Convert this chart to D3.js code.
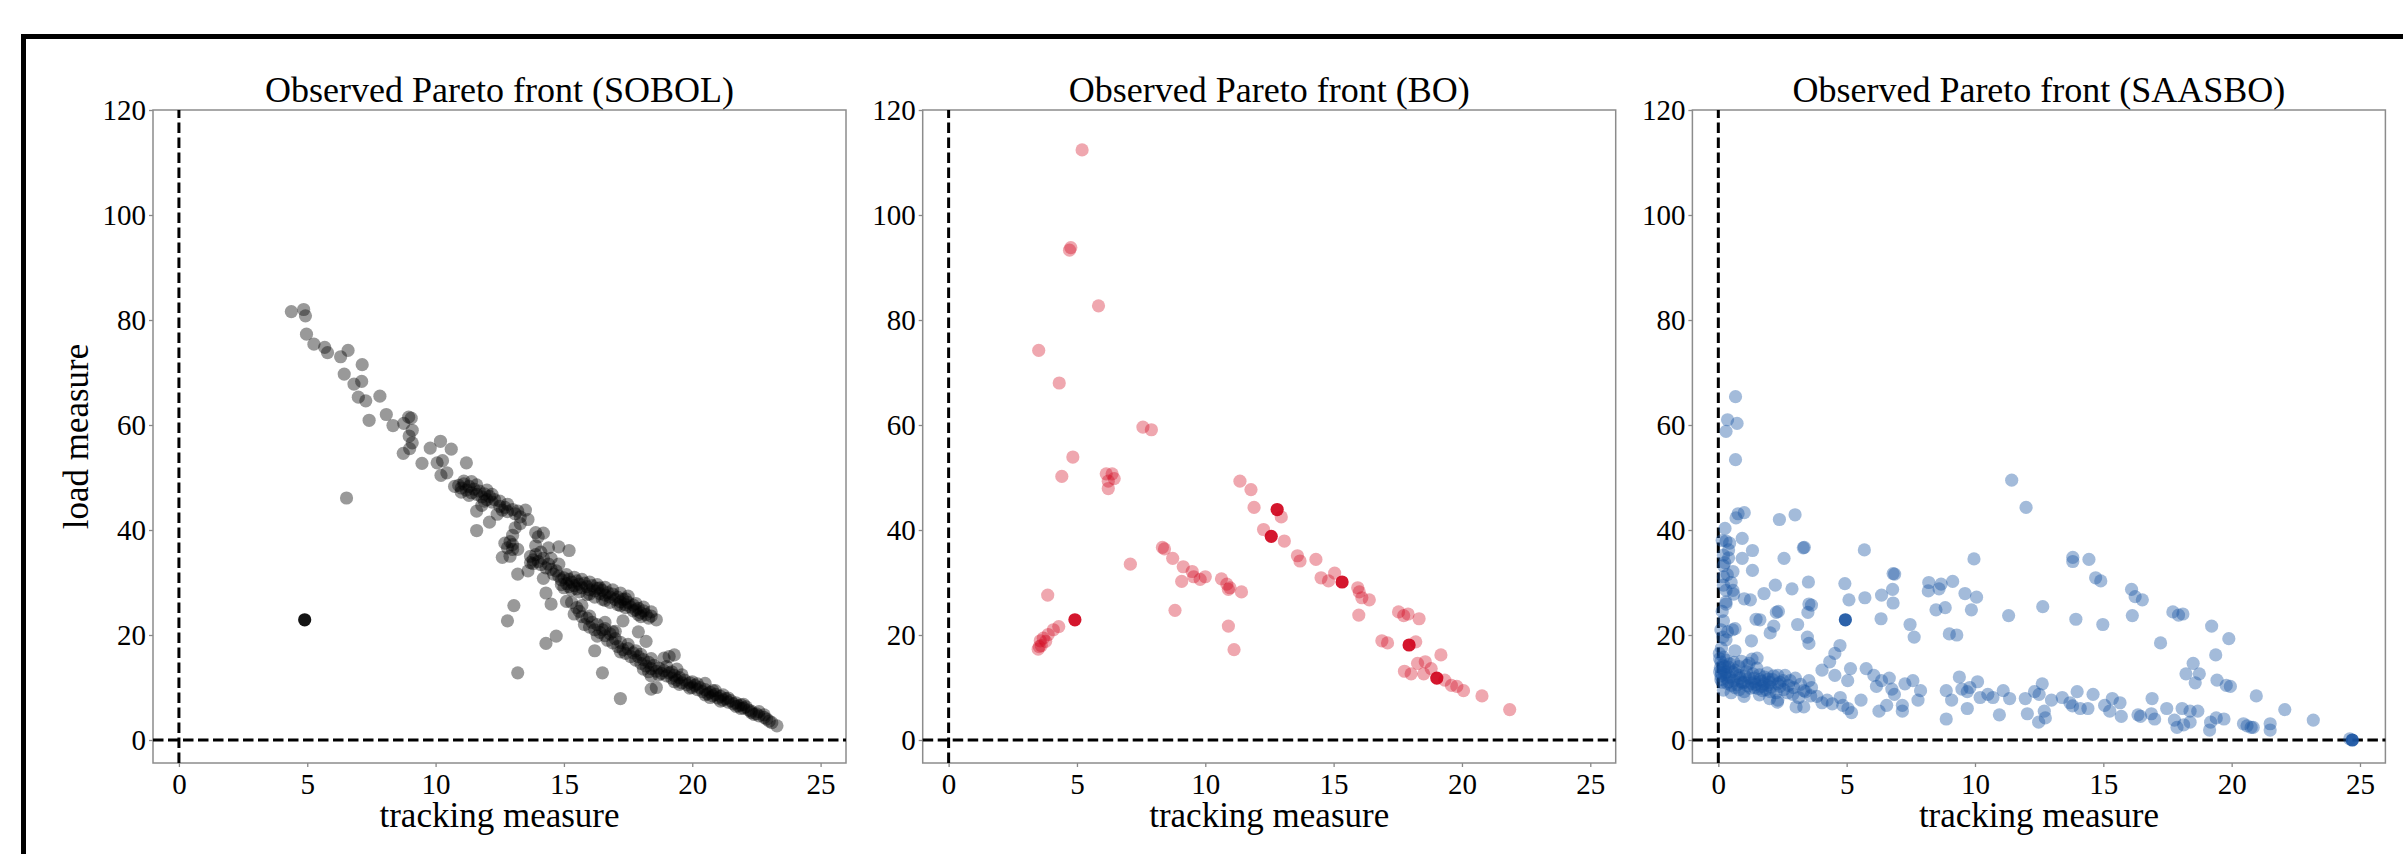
<!DOCTYPE html>
<html lang="en">
<head>
<meta charset="utf-8">
<title>Observed Pareto fronts</title>
<script src="https://d3js.org/d3.v7.min.js"></script>
<style>
  body { margin: 0; background: #fff; }
  text { font-family: "Liberation Serif", "Times New Roman", serif; fill: #000; }
</style>
</head>
<body>
<script>
// Size of the whole picture
var width = 2403;
var height = 854;

// Ticks and labels
var xTicks = [0, 5, 10, 15, 20, 25];
var yTicks = [0, 20, 40, 60, 80, 100, 120];
var titles = ["Observed Pareto front (SOBOL)", "Observed Pareto front (BO)", "Observed Pareto front (SAASBO)"];
var xLabel = "tracking measure";
var yLabel = "load measure";

// SOBOL observations [tracking, load]
var sobolPoints = [
  [4.38,81.6],[4.86,82.0],[4.93,80.8],[4.97,77.3],[5.26,75.4],[5.68,74.8],[5.79,73.8],[6.3,73.0],[6.59,74.2],
  [6.44,69.7],[7.14,71.5],[6.82,67.8],[7.12,68.3],[6.99,65.3],[7.28,64.6],[7.83,65.5],[7.41,60.9],[8.08,62.0],
  [8.34,59.9],[8.76,60.3],[8.95,61.5],[9.09,59.0],[9.05,61.3],[8.74,54.6],[8.99,55.5],[9.09,56.6],[8.97,57.9],
  [9.47,52.7],[9.79,55.6],[10.19,56.9],[10.06,52.8],[10.27,53.2],[10.61,55.4],[10.21,50.4],[10.44,50.9],
  [10.74,48.3],[11.2,52.8],[11.1,49.3],[6.53,46.1],
  [10.9,48.5],[11.0,48.0],[11.1,48.8],[11.2,47.6],[11.3,48.3],[11.4,47.1],[11.5,47.8],[11.6,46.8],[11.7,47.4],
  [11.8,46.3],[11.9,46.9],[12.0,45.8],[12.1,46.4],[12.2,45.3],[12.3,45.8],[12.5,44.5],[12.6,43.8],[12.7,44.3],
  [12.8,43.5],[13.0,43.9],[13.1,43.1],[13.2,43.6],[13.5,43.8],[12.7,37.5],[12.8,36.6],[12.9,37.8],[13.0,36.3],
  [13.1,40.4],[13.3,41.2],[13.0,39.0],[13.7,35.0],[13.8,34.3],[13.9,35.3],[14.0,34.0],[14.1,33.4],[14.2,34.6],
  [13.8,33.6],[14.3,32.8],[14.5,32.5],[14.6,31.6],[14.7,32.2],[14.4,33.5],[13.9,39.5],[14.2,39.4],[14.0,38.7],
  [14.4,36.6],[14.8,36.8],[15.2,36.1],[13.2,36.3],[12.6,34.8],[13.2,31.6],[13.6,32.2],[14.2,30.8],[14.3,28.0],
  [14.5,25.9],[15.1,26.4],[13.05,25.6],[12.8,22.7],[13.2,12.8],[14.3,18.4],[14.7,19.8],[11.6,43.6],[11.6,39.9],
  [12.1,41.5],[12.4,43.0],[11.8,44.7],
  [11.0,47.2],[11.3,46.6],[11.6,48.6],[11.9,45.5],[12.2,46.8],[12.5,45.5],[12.8,44.9],[11.4,49.2],[12.0,47.6],
  [13.3,42.5],[13.6,42.0],[13.9,37.0],[14.1,35.8],[13.7,33.8],[14.5,34.6],[14.8,33.5],[13.0,37.2],[12.9,35.0],
  [14.8,31.2],[14.9,30.5],[15.0,30.9],[15.1,29.8],[15.2,30.6],[15.3,30.1],[15.4,29.4],[15.5,30.3],[15.6,29.7],
  [15.7,29.0],[15.8,29.9],[15.9,29.2],[16.0,28.6],[16.1,29.4],[16.2,28.4],[16.3,28.9],[16.4,27.9],[16.5,28.5],
  [16.6,27.6],[16.7,28.1],[16.8,27.2],[16.9,27.8],[17.0,26.8],[17.1,27.2],[17.2,26.3],[17.3,26.8],[17.4,25.8],
  [17.5,26.2],[17.6,25.3],[17.7,25.7],[17.8,24.8],[17.9,25.1],[18.0,24.2],[18.1,24.6],[18.2,23.9],[18.4,23.6],
  [18.6,22.9],[15.5,28.8],[16.0,27.8],[16.6,26.6],[17.2,25.6],[15.2,29.2],[14.9,29.6],[16.4,29.0],[17.4,26.9],
  [17.9,23.9],
  [15.0,29.0],[15.3,28.6],[15.6,28.2],[15.9,27.7],[16.2,27.2],[16.5,26.8],[16.8,26.2],[17.1,25.8],[17.4,25.2],
  [17.7,24.6],[18.0,23.5],[18.3,23.2],[15.1,31.5],[15.4,31.0],[15.7,30.6],[16.0,30.1],[16.3,29.6],[16.6,29.1],
  [16.9,28.6],[17.2,28.0],[17.5,27.4],[17.8,26.0],[18.1,25.3],[18.4,24.4],
  [15.3,26.2],[15.5,25.2],[15.6,24.5],[15.7,23.5],[15.8,22.0],[15.9,23.2],[16.0,21.5],[16.1,22.4],[16.2,21.0],
  [16.3,22.0],[16.4,20.5],[16.5,21.0],[16.6,19.9],[16.7,19.0],[16.8,20.2],[16.9,18.5],[17.0,19.3],[17.1,17.8],
  [17.2,18.6],[17.3,17.2],[17.4,16.5],[17.5,17.4],[17.6,15.9],[17.7,16.6],[17.8,15.2],[17.9,15.9],[18.0,14.6],
  [18.1,15.3],[18.2,14.1],[18.3,14.8],[18.4,13.6],[18.5,14.2],[18.6,13.1],[18.7,13.7],[18.8,12.7],[18.9,13.2],
  [19.0,12.2],[19.1,12.8],[19.2,11.8],[19.3,12.3],[19.4,11.4],[19.5,11.9],[19.6,10.9],[19.7,11.4],[19.8,10.5],
  [19.9,10.9],[20.0,10.0],[20.1,10.4],[20.2,9.6],[20.3,10.0],[20.4,9.2],[20.5,9.6],[20.6,8.8],[20.7,9.1],
  [20.8,8.4],[20.9,8.7],[21.0,8.0],[21.1,8.3],[21.2,7.6],[21.3,7.9],[21.4,7.2],[21.5,7.5],[21.6,6.9],[21.7,7.1],
  [21.8,6.5],[21.9,6.7],[22.0,6.1],[22.1,6.3],[22.2,5.7],[22.3,5.5],[22.5,5.0],[22.6,4.6],[22.8,4.3],[22.9,4.0],
  [23.0,3.6],[23.3,2.7],[19.2,13.0],[19.4,13.5],[19.3,16.2],[18.4,12.2],[18.6,10.0],[18.4,9.7],[17.2,7.9],
  [16.5,12.8],[16.2,17.0],[17.9,20.6],[17.3,22.7],[16.6,22.4],[17.0,20.7],[18.2,18.8],[18.9,15.6],[19.1,15.9],
  [20.5,10.8],[20.9,9.4],
  [15.4,24.0],[15.7,25.6],[16.0,23.6],[16.3,19.8],[16.6,21.2],[16.9,20.6],[17.2,16.8],[17.5,18.2],[17.8,17.0],
  [18.1,13.5],[18.4,15.5],[18.7,12.4],[19.0,14.0],[19.3,11.1],[19.6,12.4],[19.9,9.9],[20.2,10.7],[20.5,8.6],
  [20.8,9.4],[21.1,7.4],[21.4,8.0],[21.7,6.4],[22.0,6.8],[22.3,5.2],[22.6,5.4],[22.8,4.8],[23.1,3.3],[18.0,16.3],
  [18.3,13.0],[19.5,10.6],[20.0,11.1],[20.7,8.1],[21.2,8.6],[21.9,6.0],[22.4,4.9]
];
var sobolBest = [[4.9,22.9]];

// BO observations
var boPoints = [
  [5.2,112.4],[4.76,93.8],[4.71,93.3],[5.84,82.7],[3.51,74.2],[4.31,68.0],[7.57,59.6],[7.9,59.1],[4.84,53.9],
  [4.41,50.2],[6.14,50.7],[6.37,50.7],[6.22,49.3],[6.45,49.8],[6.22,47.9],[7.08,33.5],[8.33,36.7],[8.41,36.4],
  [8.73,34.6],[9.14,33.0],[9.49,32.1],[9.55,31.1],[10.0,31.1],[9.8,30.6],[9.08,30.2],[10.63,30.7],[10.84,29.7],
  [10.96,29.0],[10.9,28.7],[11.41,28.2],[8.82,24.7],[10.9,21.7],[11.12,17.2],[3.86,27.6],[4.29,21.6],[4.08,21.0],
  [3.88,20.1],[3.69,19.4],[3.57,18.9],[3.78,18.8],[3.53,17.8],[3.49,17.3],[3.61,18.0],[11.35,49.3],[11.78,47.7],
  [11.9,44.3],[12.27,40.1],[12.96,42.5],[13.08,37.9],[13.59,35.1],[13.69,34.1],[14.31,34.4],[14.51,30.9],
  [14.8,30.3],[15.04,31.8],[15.94,29.0],[16.0,28.2],[16.1,27.1],[16.39,26.7],[15.98,23.8],[17.53,24.4],
  [17.73,23.7],[17.9,24.0],[18.33,23.1],[16.88,18.9],[17.1,18.5],[18.2,18.7],[19.18,16.2],[18.27,14.6],
  [18.57,14.9],[17.76,13.1],[18.02,12.6],[18.51,12.6],[18.8,13.6],[19.33,11.4],[19.59,10.4],[19.8,10.2],
  [20.06,9.4],[20.78,8.4],[21.86,5.8]
];
var boBest = [[4.92,22.9],[12.57,38.8],[12.8,43.9],[15.33,30.1],[17.94,18.1],[19.02,11.8]];

// SAASBO observations
var saasboPoints = [
  [0.67,65.4],[0.36,61.0],[0.73,60.3],[0.3,58.8],[0.67,53.4],[0.77,43.1],[1.01,43.3],[0.69,42.3],[0.26,40.3],
  [0.93,38.4],[0.3,37.9],[0.44,37.5],[0.2,35.2],[0.4,34.7],[0.93,34.6],[1.33,36.1],[0.2,33.2],[0.57,32.1],
  [1.33,32.3],[0.2,31.1],[0.5,30.0],[0.3,28.5],[0.57,28.5],[1.01,26.9],[1.25,26.7],[0.3,25.9],[1.78,27.9],
  [2.22,29.5],[2.38,42.0],[2.99,42.9],[2.56,34.6],[3.35,36.7],[3.31,36.6],[3.51,30.1],[2.87,28.8],[3.53,25.9],
  [3.63,25.7],[3.49,24.3],[2.26,24.3],[2.34,24.5],[1.47,23.0],[1.62,22.9],[0.2,22.7],[0.65,21.2],[0.3,19.1],
  [0.36,20.6],[2.02,20.4],[2.16,21.7],[3.09,22.0],[3.47,19.6],[3.53,18.4],[1.29,18.9],[5.69,36.2],[4.93,29.8],
  [5.09,26.7],[5.71,27.1],[6.36,27.6],[6.81,31.7],[6.87,31.6],[6.79,28.7],[6.81,26.1],[6.34,23.1],[7.47,22.0],
  [7.63,19.6],[8.2,30.0],[8.18,28.4],[8.6,28.8],[8.68,29.7],[9.13,30.2],[8.48,24.8],[8.84,25.2],[9.0,20.2],
  [9.29,20.0],[9.61,27.9],[10.06,27.2],[9.86,24.8],[9.96,34.5],[11.43,49.5],[11.99,44.3],[11.31,23.7],
  [12.64,25.4],[13.81,34.8],[13.81,34.0],[14.44,34.4],[14.7,30.9],[14.9,30.3],[13.93,23.0],[14.98,22.0],
  [16.1,28.7],[16.24,27.3],[16.52,26.7],[16.13,23.7],[17.71,24.4],[17.93,23.8],[18.1,24.0],[17.23,18.5],
  [19.22,21.7],[19.89,19.3],[19.38,16.2],[18.5,14.6],[18.22,12.6],[18.74,12.6],[18.58,10.9],[19.43,11.4],
  [19.79,10.4],[19.95,10.2],[20.96,8.4],[22.07,5.8],[23.18,3.8],
  [0.04,16.5],[0.1,14.9],[0.16,14.2],[0.2,13.3],[0.24,12.5],[0.32,11.8],[0.4,11.1],[0.5,10.4],[0.65,10.0],
  [0.81,9.6],[1.01,9.2],[0.12,12.8],[0.4,13.9],[0.65,13.3],[0.81,12.3],[0.91,11.1],[1.11,14.2],[1.31,15.4],
  [1.51,15.6],[1.21,11.8],[1.41,11.1],[1.62,11.5],[1.78,10.7],[1.92,10.4],[2.12,11.5],[2.32,10.7],[1.41,10.0],
  [1.72,9.4],[2.02,9.2],[2.32,12.3],[2.52,11.3],[2.73,10.4],[2.93,10.0],[2.32,7.6],[3.03,6.3],[3.33,6.3],
  [3.13,8.1],[3.33,9.4],[3.63,10.0],[3.53,11.3],[3.84,8.3],[4.04,7.1],[4.24,7.6],[4.44,6.9],[4.04,13.3],
  [4.34,14.9],[4.54,16.5],[4.74,18.0],[4.54,12.3],[5.04,11.3],[5.15,13.6],[4.75,8.1],[4.85,6.6],[5.05,6.0],
  [5.19,5.2],[5.56,7.6],[5.76,13.6],[6.06,12.3],[6.16,10.2],[6.36,11.3],[6.26,5.5],[6.56,6.6],[6.66,11.8],
  [6.76,9.7],[6.86,8.7],[7.17,6.6],[7.17,5.5],[7.27,10.7],[7.58,11.3],[7.78,7.6],[7.88,9.4],[8.88,4.0],
  [8.88,9.4],[9.09,7.6],[9.39,12.0],[9.49,9.7],[9.7,9.2],[9.7,6.0],[9.8,10.0],[10.1,11.1],[10.2,8.1],[10.5,8.7],
  [10.7,8.1],[10.95,4.8],[11.1,9.4],[11.35,7.9],[11.96,7.9],[12.04,5.0],[12.32,9.2],[12.48,3.4],[12.62,10.7],
  [12.7,5.5],[12.74,4.2],[12.5,8.7],[12.98,7.6],[13.4,8.1],[13.7,7.1],[13.8,6.5],[13.98,9.2],[14.1,6.0],
  [14.4,6.0],[14.6,8.7],[15.05,6.6],[15.25,5.5],[15.35,7.9],[15.65,7.1],[15.7,4.5],[16.35,4.8],[16.45,4.5],
  [16.87,5.0],[16.9,7.9],[17.0,4.0],[17.47,6.0],[17.77,3.8],[17.87,2.4],[18.07,6.0],[18.13,2.9],[18.38,5.5],
  [18.68,5.5],[18.38,3.4],[19.14,1.9],[19.18,3.4],[19.4,4.2],[19.7,4.0],[20.46,3.1],[20.6,2.7],[20.76,2.4],
  [20.84,2.4],[21.5,3.1],[21.5,1.9],[24.6,0.2],
  [0.05,15.5],[0.08,13.8],[0.1,12.2],[0.15,11.0],[0.2,15.8],[0.25,14.0],[0.3,12.9],[0.35,10.8],[0.45,12.0],
  [0.55,13.0],[0.6,11.3],[0.7,12.6],[0.75,10.5],[0.85,11.8],[0.95,10.8],[1.05,12.2],[1.15,10.3],[1.25,9.9],
  [1.35,12.6],[1.45,10.6],[1.55,9.8],[1.6,12.4],[1.7,11.2],[1.8,12.0],[1.85,9.6],[1.95,11.6],[2.05,10.1],
  [2.15,12.2],[2.25,9.0],[2.4,11.0],[2.55,9.6],[2.6,12.3],[2.8,11.3],[2.9,8.7],[3.2,10.6],[3.4,9.2],[3.6,8.4],
  [0.12,17.5],[0.18,19.6],[0.1,21.0],[0.15,24.5],[0.3,26.3],[0.2,29.5],[0.35,31.5],[0.25,33.8],[0.4,36.2],
  [0.15,38.0],[0.6,27.8],[0.55,21.0],[0.65,17.0],[0.9,15.0],[1.2,14.6],[1.5,13.7],[0.2,9.5],[0.5,9.0],[1.0,8.3],
  [1.6,8.6],[2.0,7.9],[2.3,7.2],
  [0.05,13.0],[0.1,11.5],[0.3,15.2],[0.45,14.5],[0.6,14.8],[1.0,11.0],[1.3,10.8],[1.7,10.2],[2.0,11.0],
  [1.9,12.8],[2.4,10.2],[0.8,14.0],[1.1,13.0],[1.4,11.8],[2.7,9.0],[3.0,11.8]
];
var saasboBest = [[4.95,22.9],[24.7,0.0]];

var panels = [
  { points: sobolPoints, best: sobolBest, color: "#000000", alpha: 0.4 },
  { points: boPoints, best: boBest, color: "#d0021b", alpha: 0.35 },
  { points: saasboPoints, best: saasboBest, color: "#1a55a3", alpha: 0.4 }
];

// layout of one axes box
var boxW = 693, boxH = 653, boxTop = 110, firstLeft = 153, step = 769.7;

var svg = d3.select("body")
  .append("svg")
  .attr("width", width)
  .attr("height", height);

svg.append("rect")
  .attr("width", width).attr("height", height)
  .attr("fill", "#fff");

// heavy outer frame (runs off the right and bottom edges)
svg.append("rect")
  .attr("x", 23.5).attr("y", 36.5)
  .attr("width", width + 20).attr("height", height)
  .attr("fill", "none")
  .attr("stroke", "#000")
  .attr("stroke-width", 5);

var x = d3.scaleLinear().domain([-1.01, 25.99]).range([0, boxW]);
var y = d3.scaleLinear().domain([-4.38, 120]).range([boxH, 0]);

panels.forEach(function(p, i) {
  var g = svg.append("g")
    .attr("transform", "translate(" + (firstLeft + i * step) + "," + boxTop + ")");

  // axes
  var xa = g.append("g")
    .attr("transform", "translate(0," + boxH + ")")
    .call(d3.axisBottom(x).tickValues(xTicks).tickSize(4).tickSizeOuter(0).tickPadding(6));
  var ya = g.append("g")
    .call(d3.axisLeft(y).tickValues(yTicks).tickSize(4).tickSizeOuter(0).tickPadding(3));
  [xa, ya].forEach(function(a) {
    a.attr("font-family", null).attr("font-size", null);
    a.select(".domain").remove();
    a.selectAll(".tick line").attr("stroke", "#888").attr("stroke-width", 1.3);
    a.selectAll(".tick text")
      .style("font-family", "'Liberation Serif', 'Times New Roman', serif")
      .style("font-size", "29px")
      .attr("fill", "#000");
  });

  // spines
  g.append("rect")
    .attr("width", boxW).attr("height", boxH)
    .attr("fill", "none")
    .attr("stroke", "#8c8c8c")
    .attr("stroke-width", 1.5);

  // zero reference lines
  g.append("line")
    .attr("x1", 0).attr("x2", boxW)
    .attr("y1", y(0)).attr("y2", y(0))
    .attr("stroke", "#000").attr("stroke-width", 3)
    .attr("stroke-dasharray", "10.5,4.5");
  g.append("line")
    .attr("x1", x(0)).attr("x2", x(0))
    .attr("y1", boxH).attr("y2", 0)
    .attr("stroke", "#000").attr("stroke-width", 3)
    .attr("stroke-dasharray", "10.5,4.5");

  // observations
  g.append("g").selectAll("circle")
    .data(p.points)
    .enter().append("circle")
    .attr("cx", function(d) { return x(d[0]); })
    .attr("cy", function(d) { return y(d[1]); })
    .attr("r", 6.6)
    .attr("fill", p.color)
    .attr("fill-opacity", p.alpha);

  g.append("g").selectAll("circle")
    .data(p.best)
    .enter().append("circle")
    .attr("cx", function(d) { return x(d[0]); })
    .attr("cy", function(d) { return y(d[1]); })
    .attr("r", 6.6)
    .attr("fill", p.color)
    .attr("fill-opacity", 0.92);

  // title and axis labels
  g.append("text")
    .attr("x", boxW / 2).attr("y", -8)
    .attr("text-anchor", "middle")
    .style("font-size", "36px")
    .text(titles[i]);

  g.append("text")
    .attr("x", boxW / 2).attr("y", boxH + 64)
    .attr("text-anchor", "middle")
    .style("font-size", "35px")
    .text(xLabel);

  if (i === 0) {
    g.append("text")
      .attr("transform", "translate(" + (88 - firstLeft) + "," + (boxH / 2) + ") rotate(-90)")
      .attr("text-anchor", "middle")
      .style("font-size", "35px")
      .text(yLabel);
  }
});
</script>
</body>
</html>
